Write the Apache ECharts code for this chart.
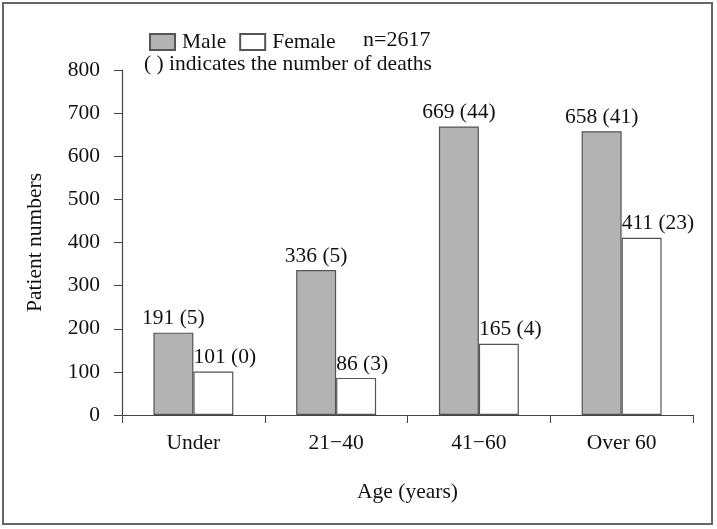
<!DOCTYPE html>
<html><head><meta charset="utf-8">
<script src="https://cdn.jsdelivr.net/npm/echarts@6/dist/echarts.min.js"></script>
<style>html,body{margin:0;padding:0;background:#fff}#c{width:717px;height:529px}</style>
</head><body><div id="c"></div>
<script>
const categories = ['Under', '21\u221240', '41\u221260', 'Over 60'];
const maleValues = [191, 336, 669, 658];
const maleDeaths = [5, 5, 44, 41];
const femaleValues = [101, 86, 165, 411];
const femaleDeaths = [0, 3, 4, 23];
const yTicks = [0, 100, 200, 300, 400, 500, 600, 700, 800];

const FONT = 'Liberation Serif';
const FS = 21.5;
const chart = echarts.init(document.getElementById('c'));
chart.setOption({
  animation: false,
  textStyle: {fontFamily: FONT},
  graphic: [
    {type: 'rect', shape: {x: 3, y: 3, width: 709, height: 521}, style: {fill: 'none', stroke: '#666', lineWidth: 2}},
    {type: 'text', left: 363, top: 29, style: {text: 'n=2617', font: '22px "' + FONT + '"', fill: '#111'}},
    {type: 'text', left: 144, top: 53, style: {text: '( ) indicates the number of deaths', font: FS + 'px "' + FONT + '"', fill: '#111'}}
  ],
  legend: {
    left: 144, top: 26, itemWidth: 25, itemHeight: 16, itemGap: 13,
    icon: 'rect',
    textStyle: {fontFamily: FONT, fontSize: FS, color: '#111', padding: [0, 0, 0, 2]},
    data: ['Male', 'Female']
  },
  grid: {left: 122, right: 24, top: 70, bottom: 114, containLabel: false},
  xAxis: {
    type: 'category', data: categories,
    name: 'Age (years)', nameLocation: 'middle', nameGap: 66,
    nameTextStyle: {fontFamily: FONT, fontSize: FS, color: '#111'},
    axisLine: {lineStyle: {color: '#444', width: 1.2}},
    axisTick: {show: true, length: 8, lineStyle: {color: '#444'}},
    axisLabel: {fontFamily: FONT, fontSize: FS, color: '#111', margin: 17}
  },
  yAxis: {
    type: 'value', min: 0, max: 800, interval: 100,
    name: 'Patient numbers', nameLocation: 'middle', nameGap: 76, nameRotate: 90,
    nameTextStyle: {fontFamily: FONT, fontSize: FS, color: '#111'},
    axisLine: {show: true, lineStyle: {color: '#444', width: 1.2}},
    axisTick: {show: true, length: 8, lineStyle: {color: '#444'}},
    axisLabel: {fontFamily: FONT, fontSize: FS, color: '#111', margin: 22,
      formatter: v => yTicks.includes(v) ? String(v) : ''},
    splitLine: {show: false}
  },
  series: [
    {
      name: 'Male', type: 'bar', data: maleValues, barWidth: '28%', barGap: '0%',
      itemStyle: {color: '#b3b3b3', borderColor: '#555', borderWidth: 1.2},
      label: {show: true, position: 'top', distance: 3, fontFamily: FONT, fontSize: FS, color: '#111',
        formatter: p => p.value + ' (' + maleDeaths[p.dataIndex] + ')'}
    },
    {
      name: 'Female', type: 'bar', data: femaleValues, barWidth: '28%',
      itemStyle: {color: '#ffffff', borderColor: '#555', borderWidth: 1.2},
      label: {show: true, position: [0, -3], align: 'left', verticalAlign: 'bottom',
        fontFamily: FONT, fontSize: FS, color: '#111',
        formatter: p => p.value + ' (' + femaleDeaths[p.dataIndex] + ')'}
    }
  ]
});
</script></body></html>
